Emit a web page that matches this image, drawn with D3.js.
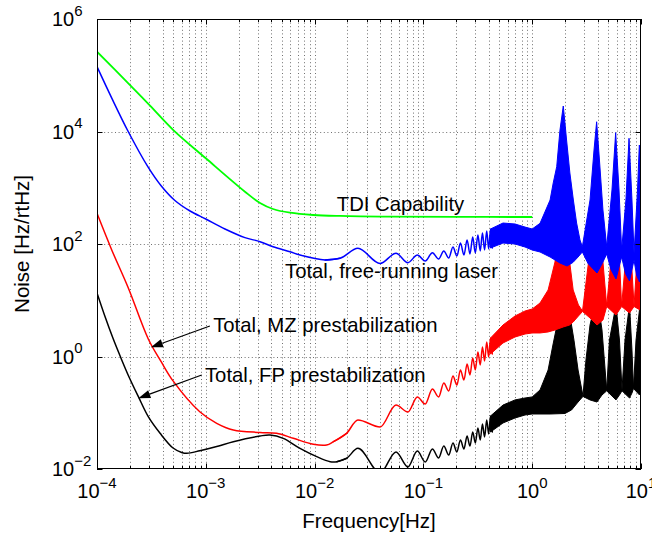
<!DOCTYPE html>
<html>
<head>
<meta charset="utf-8">
<script src="https://cdn.jsdelivr.net/npm/d3@7"></script>
<style>
  html, body { margin: 0; padding: 0; background: #fff; }
  svg { display: block; font-family: "Liberation Sans", Arial, Helvetica, sans-serif; }
</style>
</head>
<body>
<svg id="chart" width="652" height="538"></svg>
<script>
/* Laser frequency noise vs frequency, log-log. */

// ---------- axes ----------
const xTickExps = [-4, -3, -2, -1, 0, 1];
const yTickExps = [-2, 0, 2, 4, 6];
const xTitle = "Frequency[Hz]";
const yTitle = "Noise [Hz/rtHz]";

// ---------- smooth low-frequency parts [Hz, Hz/rtHz] ----------
const tdiCapability = [[1e-4, 2.62e5], [1.94e-4, 7.19e4], [3.07e-4, 2.88e4], [5.03e-4, 1.06e4], [1e-3, 3.34e3],
  [2.29e-3, 851], [3.15e-3, 536], [4.15e-3, 419], [5.94e-3, 360], [9.7e-3, 328], [1.71e-2, 315], [4.93e-2, 306],
  [0.2, 303], [1, 302]];

const freeLow = [[1e-4, 1.42e5], [1.36e-4, 4.0e4], [1.94e-4, 9.9e3], [2.96e-4, 2.3e3], [3.9e-4, 1074], [5.2e-4, 593],
  [7.16e-4, 386], [1e-3, 278], [1.5e-3, 185], [2.29e-3, 130], [3.15e-3, 110], [4.15e-3, 89.5], [5.94e-3, 73],
  [7.34e-3, 63.7], [1.25e-2, 52], [1.71e-2, 55.7]];

const mzLow = [[1e-4, 351], [1.36e-4, 80], [1.94e-4, 16.5], [2.96e-4, 2.05], [3.9e-4, 0.80], [5.0e-4, 0.368],
  [8.8e-4, 0.104], [1.26e-3, 0.0649], [1.79e-3, 0.0493], [3.15e-3, 0.0446], [4.48e-3, 0.0431], [6.37e-3, 0.0351],
  [9.73e-3, 0.0275], [1.29e-2, 0.0267], [1.49e-2, 0.0306], [1.97e-2, 0.0431]];

const fpLow = [[1e-4, 13.5], [1.18e-4, 5.25], [1.4e-4, 2.13], [1.66e-4, 0.94], [1.97e-4, 0.432], [2.4e-4, 0.193],
  [2.96e-4, 0.0851], [3.8e-4, 0.0431], [5.0e-4, 0.0236], [6.0e-4, 0.0197], [6.7e-4, 0.019], [8.8e-4, 0.0211],
  [1.26e-3, 0.0251], [1.79e-3, 0.0306], [3.15e-3, 0.0386], [3.89e-3, 0.0402], [5.15e-3, 0.0351], [7.34e-3, 0.0233],
  [1.045e-2, 0.0166], [1.39e-2, 0.0135], [1.6e-2, 0.0135], [1.97e-2, 0.0155]];

// ---------- resolvable ripple: alternating peaks / troughs ----------
const rippleFreq = [0.025, 0.040, 0.056, 0.072, 0.088, 0.104, 0.121, 0.138, 0.154, 0.171, 0.187, 0.203, 0.219,
  0.236, 0.252, 0.268, 0.284, 0.300, 0.317, 0.333, 0.349, 0.365, 0.382, 0.398, 0.414, 0.430];
const freeRipple = [83.9, 45.0, 68.4, 46.5, 63.7, 49.9, 70.0, 54.1, 75.2, 56.4, 88.4, 60.9, 104, 63.7, 118, 66.4,
  133, 69.2, 144, 75.2, 157, 78.2, 170, 81.5, 185, 84.9];
const mzRipple = [0.0743, 0.0558, 0.137, 0.103, 0.191, 0.143, 0.264, 0.191, 0.338, 0.244, 0.450, 0.311, 0.575,
  0.382, 0.736, 0.469, 0.940, 0.575, 1.20, 0.706, 1.48, 0.832, 1.81, 0.980, 2.13, 1.11];
const fpRipple = [0.0233, 0.0085, 0.0201, 0.0109, 0.0209, 0.0133, 0.0227, 0.0157, 0.0256, 0.0177, 0.029, 0.0201,
  0.0328, 0.0227, 0.0386, 0.0256, 0.0455, 0.029, 0.0536, 0.0328, 0.0631, 0.0371, 0.0743, 0.0419, 0.0875, 0.0455];

// ---------- unresolved ripple: upper / lower envelopes ----------
const freeTop = [[0.414, 185], [0.539, 236], [0.695, 227], [0.859, 200], [1.0, 185], [1.18, 233], [1.46, 605],
  [1.56, 1214], [1.68, 2366], [1.80, 1.06e4], [1.93, 2.84e4], [2.0, 1.42e4], [2.07, 7060], [2.22, 1828], [2.39, 605],
  [2.56, 236], [2.75, 118], [2.89, 89.5], [3.40, 605], [3.70, 4690], [3.91, 1.49e4], [4.15, 3110], [4.47, 402],
  [4.84, 89.5], [5.41, 912], [5.85, 9520], [6.28, 912], [6.64, 78.2], [7.27, 605], [7.76, 7570], [8.26, 605],
  [8.63, 68.4], [9.29, 912], [9.65, 5750], [10, 3500]];
const freeBottom = [[0.414, 84.9], [0.539, 104], [0.695, 100], [0.859, 88.4], [1.0, 78.2], [1.18, 72.1], [1.46, 58.7],
  [1.80, 45.9], [2.09, 40.6], [2.37, 47], [2.64, 58.7], [2.89, 72.1], [3.26, 45], [3.94, 30.5], [4.4, 45],
  [4.84, 66.4], [5.3, 35], [5.89, 23.9], [6.64, 58.7], [7.2, 30], [7.84, 22.0], [8.63, 52], [9.1, 28], [9.69, 21.1],
  [10, 25]];

const mzTop = [[0.414, 2.13], [0.539, 3.63], [0.695, 5.25], [0.859, 6.44], [1.0, 6.99], [1.18, 8.93], [1.40, 15.2],
  [1.62, 47.9], [1.93, 912], [2.09, 177], [2.21, 47.9], [2.38, 15.2], [2.66, 8.24], [2.90, 6.44], [3.40, 78.2],
  [3.94, 605], [4.47, 47.9], [4.84, 7.91], [5.30, 52], [5.89, 402], [6.34, 52], [6.64, 7.91], [7.21, 52], [7.84, 328],
  [8.26, 34.5], [8.63, 7.91], [9.19, 52], [9.8, 267], [10, 218]];
const mzBottom = [[0.414, 1.11], [0.539, 1.74], [0.695, 2.22], [0.859, 2.51], [1.0, 2.62], [1.18, 2.62], [1.40, 2.73],
  [1.62, 2.96], [1.93, 3.35], [2.21, 3.63], [2.38, 4.10], [2.66, 5.25], [2.90, 6.31], [3.40, 4.83], [3.94, 3.63],
  [4.47, 4.46], [4.84, 7.74], [5.89, 5.47], [6.64, 7.74], [7.84, 5.93], [8.63, 7.74], [9.8, 6.71], [10, 6.71]];

const fpTop = [[0.414, 0.0875], [0.539, 0.137], [0.695, 0.169], [0.859, 0.183], [1.0, 0.191], [1.18, 0.254],
  [1.40, 0.575], [1.55, 1.60], [1.69, 3.63], [1.93, 15.2], [2.18, 6.71], [2.42, 1.96], [2.64, 0.575], [2.93, 0.199],
  [3.12, 0.867], [3.40, 3.63], [3.94, 12.4], [4.38, 2.96], [4.84, 0.254], [5.13, 1.96], [5.89, 8.24], [6.34, 1.96],
  [6.69, 0.254], [7.13, 1.96], [7.84, 8.24], [8.26, 1.30], [8.53, 0.275], [9.0, 1.96], [9.8, 8.24], [10, 8.24]];
const fpBottom = [[0.414, 0.0455], [0.539, 0.0658], [0.695, 0.0807], [0.859, 0.0912], [1.0, 0.095], [1.18, 0.095],
  [1.46, 0.095], [2.0, 0.097], [2.3, 0.112], [2.64, 0.155], [2.93, 0.195], [3.40, 0.169], [3.94, 0.155],
  [4.38, 0.207], [4.84, 0.245], [5.89, 0.169], [6.34, 0.207], [6.69, 0.245], [7.84, 0.183], [8.26, 0.224],
  [8.53, 0.27], [9.69, 0.207], [10, 0.224]];

// ---------- text annotations (anchor in data coords) and arrows ----------
const labels = [
  { text: "TDI Capability", at: [0.016, 386] },
  { text: "Total, free-running laser", at: [5.35e-3, 24.6] },
  { text: "Total, MZ prestabilization", at: [1.17e-3, 2.76] },
  { text: "Total, FP prestabilization", at: [9.83e-4, 0.356] },
];
const arrows = [
  { from: [1.09e-3, 3.48], to: [3.13e-4, 1.46] },
  { from: [9.17e-4, 0.469], to: [2.40e-4, 0.181] },
];

// ---------- chart ----------
const svg = d3.select("#chart");
const L = 97, R = 641, T = 19, B = 469;
const x = d3.scaleLog().domain([1e-4, 10]).range([L, R]);
const y = d3.scaleLog().domain([1e-2, 1e6]).range([B, T]);

svg.append("defs").append("clipPath").attr("id", "plotclip")
  .append("rect").attr("x", L).attr("y", T).attr("width", R - L).attr("height", B - T);

// dotted grid: every x decade subdivision, y at labelled decades
const gGrid = svg.append("g").attr("stroke", "#000").attr("stroke-width", 0.8)
  .attr("stroke-dasharray", "1,2.6").attr("opacity", 0.7);
gGrid.selectAll("line.vx").data(x.ticks().filter(v => x(v) > L + 0.5 && x(v) < R - 0.5)).join("line")
  .attr("class", "vx").attr("x1", d => Math.round(x(d)) + 0.5).attr("x2", d => Math.round(x(d)) + 0.5)
  .attr("y1", T).attr("y2", B);
gGrid.selectAll("line.hy").data(yTickExps.map(e => Math.pow(10, e)).filter(v => y(v) > T + 0.5 && y(v) < B - 0.5)).join("line")
  .attr("class", "hy").attr("y1", d => Math.round(y(d)) + 0.5).attr("y2", d => Math.round(y(d)) + 0.5)
  .attr("x1", L).attr("x2", R);

// curves
const plot = svg.append("g").attr("clip-path", "url(#plotclip)");
const smooth = d3.line().x(d => x(d[0])).y(d => y(d[1])).curve(d3.curveCatmullRom.alpha(0.5));
const wiggle = d3.line().x(d => x(d[0])).y(d => y(d[1])).curve(d3.curveMonotoneX);
const poly = d3.line().x(d => x(d[0])).y(d => y(d[1]));

const SERIES = [
  { low: fpLow, ripple: fpRipple, top: fpTop, bottom: fpBottom, color: "#000000" },
  { low: mzLow, ripple: mzRipple, top: mzTop, bottom: mzBottom, color: "#ff0000" },
  { low: freeLow, ripple: freeRipple, top: freeTop, bottom: freeBottom, color: "#0000ff" },
];
SERIES.forEach(s => {
  const rip = rippleFreq.map((f, i) => [f, s.ripple[i]]);
  const stroke = p => p.attr("fill", "none").attr("stroke", s.color).attr("stroke-width", 1.5)
    .attr("stroke-linejoin", "round").attr("stroke-linecap", "round");
  plot.append("path").attr("d", smooth(s.low)).call(stroke);
  plot.append("path").attr("d", wiggle(s.low.slice(-2).concat(rip))).call(stroke);
  plot.append("path").attr("d", poly(s.top.concat(s.bottom.slice().reverse())) + "Z")
    .attr("fill", s.color).attr("stroke", s.color).attr("stroke-width", 1).attr("stroke-linejoin", "round");
});
plot.append("path").attr("d", smooth(tdiCapability)).attr("fill", "none")
  .attr("stroke", "#00ff00").attr("stroke-width", 1.8);

// box + ticks (inside)
const gAx = svg.append("g").attr("stroke", "#000").attr("stroke-width", 1).attr("fill", "none");
gAx.append("rect").attr("x", L + 0.5).attr("y", T + 0.5).attr("width", R - L - 1).attr("height", B - T - 1);
const xMajor = xTickExps.map(e => Math.pow(10, e));
const yMajor = yTickExps.map(e => Math.pow(10, e));
x.ticks().forEach(v => {
  const px = Math.round(x(v)) + 0.5, len = xMajor.some(m => Math.abs(m - v) / m < 1e-6) ? 5.5 : 3;
  gAx.append("line").attr("x1", px).attr("x2", px).attr("y1", B).attr("y2", B - len);
  gAx.append("line").attr("x1", px).attr("x2", px).attr("y1", T).attr("y2", T + len);
});
yMajor.forEach(v => {
  const py = Math.round(y(v)) + 0.5;
  gAx.append("line").attr("x1", L).attr("x2", L + 5.5).attr("y1", py).attr("y2", py);
  gAx.append("line").attr("x1", R).attr("x2", R - 5.5).attr("y1", py).attr("y2", py);
});

// tick labels: 10 with superscript exponent
const expText = e => (e < 0 ? "\u2212" + (-e) : String(e));
function powerLabel(t, e) {
  t.append("tspan").text("10");
  t.append("tspan").attr("dy", -10.5).attr("font-size", 15).text(expText(e));
}
svg.append("g").selectAll("text").data(xTickExps).join("text")
  .attr("x", e => x(Math.pow(10, e))).attr("y", 498).attr("text-anchor", "middle")
  .attr("font-size", 20).attr("fill", "#000")
  .each(function (e) { powerLabel(d3.select(this), e); });
svg.append("g").selectAll("text").data(yTickExps).join("text")
  .attr("x", 52).attr("y", e => y(Math.pow(10, e)) + 7).attr("text-anchor", "start")
  .attr("font-size", 20).attr("fill", "#000")
  .each(function (e) { powerLabel(d3.select(this), e); });

// axis titles
svg.append("text").attr("x", (L + R) / 2).attr("y", 528).attr("text-anchor", "middle")
  .attr("font-size", 20.5).text(xTitle);
svg.append("text").attr("transform", `translate(29,${(T + B) / 2}) rotate(-90)`).attr("text-anchor", "middle")
  .attr("font-size", 20.5).text(yTitle);

// annotations
svg.append("g").selectAll("text").data(labels).join("text")
  .attr("x", d => x(d.at[0])).attr("y", d => y(d.at[1])).attr("font-size", 20.3).attr("fill", "#000")
  .text(d => d.text);

const gArr = svg.append("g");
arrows.forEach(a => {
  const x0 = x(a.from[0]), y0 = y(a.from[1]), x1 = x(a.to[0]), y1 = y(a.to[1]);
  const dx = x1 - x0, dy = y1 - y0, len = Math.hypot(dx, dy), ux = dx / len, uy = dy / len;
  const hl = 12, hw = 4.2;
  const bx = x1 - ux * hl, by = y1 - uy * hl;
  gArr.append("line").attr("x1", x0).attr("y1", y0).attr("x2", bx).attr("y2", by)
    .attr("stroke", "#000").attr("stroke-width", 1.2);
  gArr.append("path")
    .attr("d", `M${x1},${y1}L${bx - uy * hw},${by + ux * hw}L${bx + uy * hw},${by - ux * hw}Z`)
    .attr("fill", "#000");
});
</script>
</body>
</html>
